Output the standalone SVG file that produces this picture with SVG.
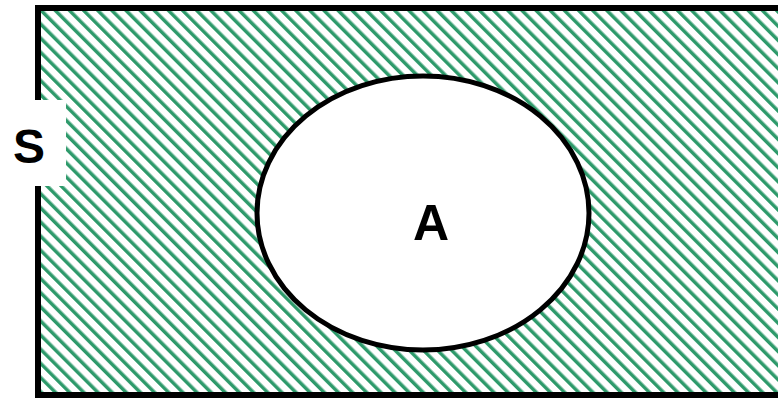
<svg xmlns="http://www.w3.org/2000/svg" width="778" height="398" viewBox="0 0 778 398">
<style>
.lbl{font-family:"Liberation Sans",Arial,sans-serif;font-weight:bold;fill:#000;text-anchor:middle}
</style>
<defs>
<pattern id="hatch" patternUnits="userSpaceOnUse" width="10" height="10" patternTransform="rotate(-45)">
<rect width="10" height="10" fill="#fff"/>
<rect x="0" y="0" width="3.5" height="10" fill="#2e9a6b"/>
</pattern>
</defs>
<rect width="778" height="398" fill="#fff"/>
<g id="set-S">
<rect x="38" y="8" width="760" height="387" fill="url(#hatch)" stroke="#000" stroke-width="6"/>
<rect x="0" y="100" width="66" height="86" fill="#fff"/>
<text class="lbl" x="29" y="163" font-size="48">S</text>
</g>
<g id="set-A">
<ellipse cx="423" cy="213" rx="166" ry="137" fill="#fff" stroke="#000" stroke-width="5"/>
<text class="lbl" x="431" y="240" font-size="50">A</text>
</g>
<g id="connectors"/>
</svg>
